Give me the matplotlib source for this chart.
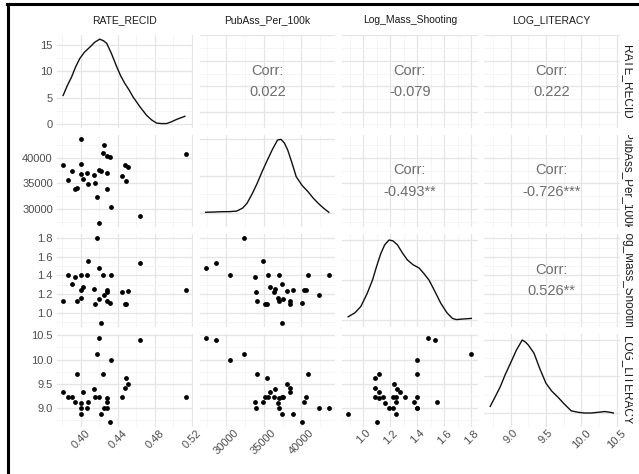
import numpy as np
import matplotlib.pyplot as plt
from matplotlib.ticker import FixedLocator, AutoMinorLocator
from matplotlib.lines import Line2D

plt.rcParams['font.family'] = ['Liberation Sans', 'DejaVu Sans']

names = ['RATE_RECID', 'PubAss_Per_100k', 'Log_Mass_Shooting', 'LOG_LITERACY']

# one value per state
rate_recid = [0.381, 0.386, 0.391, 0.394, 0.396, 0.400, 0.400, 0.400, 0.402, 0.407,
              0.408, 0.414, 0.415, 0.417, 0.420, 0.420, 0.422, 0.4235, 0.425, 0.428,
              0.428, 0.428, 0.432, 0.433, 0.445, 0.448, 0.449, 0.451, 0.464, 0.514]
pubass_per_100k = [38500, 35640, 37370, 33860, 34180, 43650, 38850, 36870, 35900, 37060,
                   34950, 36540, 35140, 32450, 37560, 27300, 37370, 40900, 42360, 33990,
                   40380, 37060, 40060, 30530, 36400, 38520, 35450, 38140, 28700, 40630]
log_mass_shooting = [1.12, 1.40, 1.31, 1.38, 1.12, 1.40, 1.24, 1.16, 1.27, 1.40,
                     1.55, 1.25, 1.09, 1.80, 1.15, 1.48, 0.89, 1.40, 1.19, 1.22,
                     1.24, 1.12, 1.10, 1.40, 1.22, 1.09, 1.09, 1.23, 1.53, 1.24]
log_literacy = [9.33, 9.23, 9.23, 9.13, 9.71, 9.01, 8.87, 9.10, 9.33, 9.01,
                9.13, 9.40, 9.23, 10.12, 9.23, 10.45, 8.87, 9.71, 9.01, 9.01,
                9.13, 9.20, 8.71, 10.00, 9.23, 9.42, 9.63, 9.49, 10.40, 9.23]

# density curves on the diagonal
rate_dens_x = [0.381, 0.3855, 0.390, 0.3945, 0.399, 0.404, 0.410, 0.415, 0.4205, 0.4245,
               0.428, 0.433, 0.4386, 0.443, 0.4476, 0.452, 0.4565, 0.464, 0.471, 0.4765,
               0.4818, 0.487, 0.4926, 0.498, 0.5035, 0.508, 0.5124]
rate_dens_y = [5.4, 7.3, 8.9, 10.9, 12.5, 13.7, 14.7, 15.6, 16.2, 15.9,
               15.4, 13.5, 11.0, 9.2, 7.7, 6.5, 5.1, 3.2, 1.6, 0.7,
               0.1, 0.0, 0.0, 0.35, 0.8, 1.1, 1.4]
pubass_dens_x = [27300, 28300, 29420, 30500, 31440, 32200, 32790, 33500, 34140, 34800,
                 35490, 36200, 36840, 37290, 37750, 38190, 38750, 39320, 40100, 40890,
                 41550, 42240, 43000, 43650]
pubass_dens_y = [0.003, 0.006, 0.011, 0.012, 0.02, 0.06, 0.126, 0.26, 0.399, 0.56,
                 0.717, 0.87, 0.99, 1.0, 0.95, 0.854, 0.68, 0.489, 0.37, 0.284,
                 0.20, 0.126, 0.055, 0.003]
mass_dens_x = [0.89, 0.94, 0.984, 1.03, 1.070, 1.10, 1.131, 1.16, 1.192, 1.22,
               1.254, 1.29, 1.328, 1.37, 1.414, 1.45, 1.487, 1.53, 1.574, 1.62,
               1.660, 1.69, 1.721, 1.76, 1.80]
mass_dens_y = [0.04, 0.09, 0.17, 0.33, 0.50, 0.67, 0.83, 0.94, 1.0, 0.99,
               0.94, 0.84, 0.75, 0.69, 0.65, 0.58, 0.50, 0.36, 0.21, 0.09,
               0.02, 0.005, 0.01, 0.015, 0.02]
lit_dens_x = [8.71, 8.78, 8.853, 8.92, 8.996, 9.08, 9.163, 9.21, 9.25, 9.329,
              9.41, 9.497, 9.58, 9.664, 9.76, 9.854, 9.95, 10.04, 10.14, 10.24,
              10.33, 10.40, 10.45]
lit_dens_y = [0.09, 0.22, 0.36, 0.52, 0.68, 0.86, 1.0, 0.97, 0.93, 0.82,
              0.61, 0.41, 0.30, 0.22, 0.12, 0.03, 0.01, 0.0, 0.0, 0.01,
              0.02, 0.01, 0.0]

corr_labels = {(0, 1): '0.022', (0, 2): '-0.079', (0, 3): '0.222',
               (1, 2): '-0.493**', (1, 3): '-0.726***', (2, 3): '0.526**'}

ticks = [[0.40, 0.44, 0.48, 0.52], [30000, 35000, 40000],
         [1.0, 1.2, 1.4, 1.6, 1.8], [9.0, 9.5, 10.0, 10.5]]
tick_labels = [['0.40', '0.44', '0.48', '0.52'], ['30000', '35000', '40000'],
               ['1.0', '1.2', '1.4', '1.6', '1.8'], ['9.0', '9.5', '10.0', '10.5']]
dens_ticks = [0, 5, 10, 15]

data = [rate_recid, pubass_per_100k, log_mass_shooting, log_literacy]
dens = [(rate_dens_x, rate_dens_y), (pubass_dens_x, pubass_dens_y),
        (mass_dens_x, mass_dens_y), (lit_dens_x, lit_dens_y)]
dens_ylim = [(-0.85, 17.0), (-0.205, 1.066), (-0.0875, 1.075), (-0.185, 1.089)]

lims = []
for v in data:
    lo, hi = min(v), max(v)
    r = hi - lo
    lims.append((lo - 0.05 * r, hi + 0.05 * r))

W, H = 639, 474
fig = plt.figure(figsize=(W / 100, H / 100), dpi=100)

col_left = [57, 199.5, 342, 484]
row_top = [35, 134.5, 234, 333.5]
pw, ph = 135.5, 93

tick_col = '#4d4d4d'

for i in range(4):
    for j in range(4):
        ax = fig.add_axes([col_left[j] / W, 1 - (row_top[i] + ph) / H, pw / W, ph / H])
        for s in ax.spines.values():
            s.set_visible(False)
        ax.set_xlim(lims[j])
        ax.xaxis.set_major_locator(FixedLocator(ticks[j]))
        ax.xaxis.set_minor_locator(AutoMinorLocator(2))
        if i == j:
            x, y = dens[i]
            ax.plot(x, y, color='#111111', lw=1.0, solid_joinstyle='round')
            ax.set_ylim(dens_ylim[i])
            if i == 0:
                ax.yaxis.set_major_locator(FixedLocator(dens_ticks))
            ax.yaxis.set_minor_locator(AutoMinorLocator(2))
        else:
            ax.set_ylim(lims[i])
            ax.yaxis.set_major_locator(FixedLocator(ticks[i]))
            ax.yaxis.set_minor_locator(AutoMinorLocator(2))
            if i > j:
                ax.scatter(data[j], data[i], s=12, color='black', linewidths=0, zorder=3)
            else:
                ax.text(0.5, 0.5, 'Corr:\n' + corr_labels[(i, j)], transform=ax.transAxes,
                        ha='center', va='center', fontsize=10.5, color='#6e6e6e',
                        linespacing=1.7)
        ax.grid(which='major', color='#e5e5e5', lw=0.9)
        ax.grid(which='minor', color='#f2f2f2', lw=0.5)
        ax.set_axisbelow(True)
        ax.tick_params(which='both', length=0, colors=tick_col, labelsize=8, pad=3)
        if j == 0:
            if i == 0:
                ax.set_yticklabels([str(t) for t in dens_ticks])
            else:
                ax.set_yticklabels(tick_labels[i])
        else:
            ax.set_yticklabels([])
        if i == 3:
            ax.tick_params(axis='x', pad=1)
            ax.set_xticklabels(tick_labels[j], rotation=45, ha='center', va='top')
        else:
            ax.set_xticklabels([])

# column strips on top
for j in range(4):
    fig.text((col_left[j] + pw / 2) / W, 1 - 20 / H, names[j], ha='center', va='center',
             fontsize=7.5, color='#1a1a1a')

# row strips on the right, clipped to the panel height
for i in range(4):
    sax = fig.add_axes([620 / W, 1 - (row_top[i] + ph) / H, 13 / W, ph / H])
    sax.axis('off')
    sax.text(0.5, 0.5, names[i], rotation=-90, ha='center', va='center',
             transform=sax.transAxes, fontsize=8.5, color='#1a1a1a', clip_on=True)

# screenshot frame on top and left
fig.add_artist(Line2D([7 / W, 1], [1 - 4 / H, 1 - 4 / H], color='black', lw=2.2))
fig.add_artist(Line2D([8 / W, 8 / W], [0, 1 - 4 / H], color='black', lw=2.2))

fig.savefig('out.png', dpi=100)
